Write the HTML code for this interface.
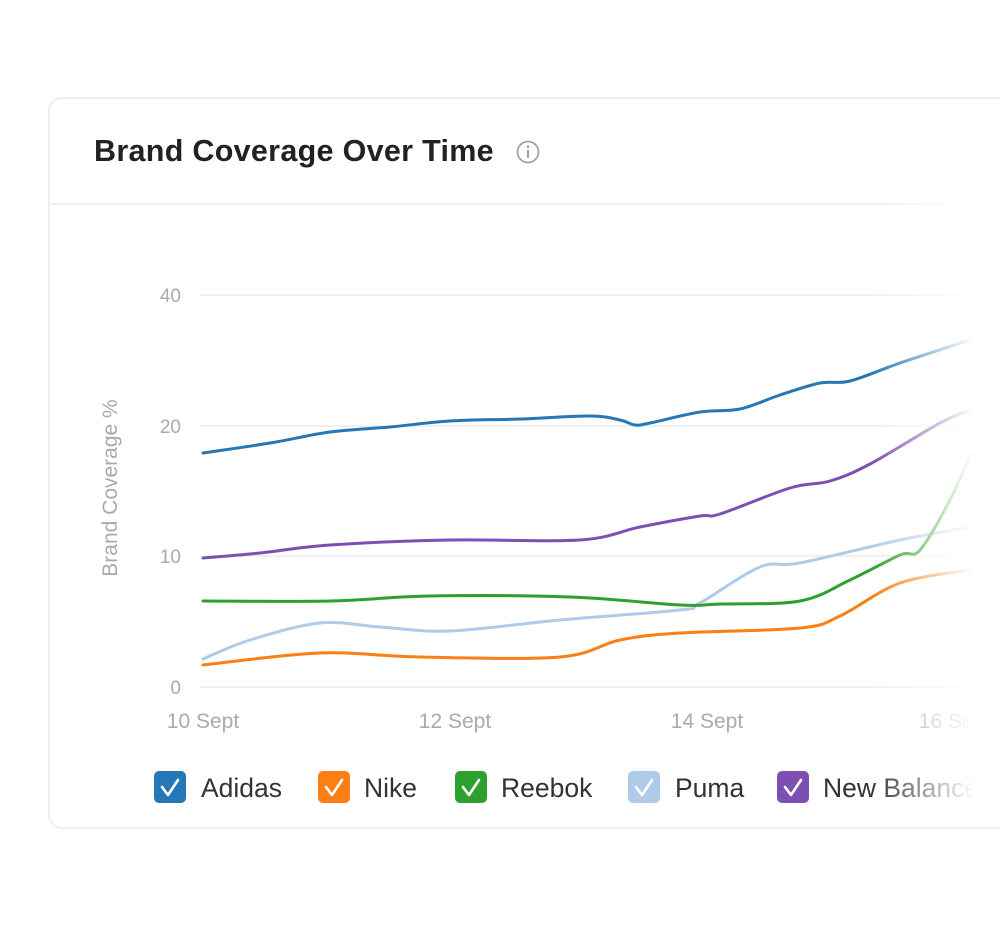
<!DOCTYPE html>
<html><head><meta charset="utf-8"><style>
html,body{margin:0;padding:0;background:#fff;width:1000px;height:928px;overflow:hidden;font-family:"Liberation Sans",sans-serif}
.card{position:absolute;left:48px;top:97px;width:1000px;height:732px;border:2px solid #eeeeee;border-radius:14px;box-sizing:border-box}
.hdr{position:absolute;left:48px;top:203px;width:900px;height:2px;background:#f0f0f0}
.title{position:absolute;left:94px;top:134px;font-size:30.5px;font-weight:bold;color:#222;letter-spacing:0.3px}
.fade{position:absolute;left:870px;top:200px;width:130px;height:620px;background:linear-gradient(to right,rgba(255,255,255,0),#fff 80%)}
</style></head><body>
<div class="card"></div>
<div class="hdr"></div>
<div class="title">Brand Coverage Over Time</div>
<svg width="1000" height="928" style="position:absolute;left:0;top:0">
<circle cx="528" cy="152" r="10.5" fill="none" stroke="#999" stroke-width="1.6"/>
<circle cx="528" cy="146.5" r="1.3" fill="#999"/>
<line x1="528" y1="150" x2="528" y2="158" stroke="#999" stroke-width="1.8"/>
<g stroke="#ececec" stroke-width="1.5">
<line x1="200" y1="295" x2="1000" y2="295"/><line x1="200" y1="426" x2="1000" y2="426"/>
<line x1="200" y1="556" x2="1000" y2="556"/><line x1="200" y1="687" x2="1000" y2="687"/></g>
<g font-size="19" fill="#aaa" text-anchor="end">
<text x="181" y="302">40</text><text x="181" y="433">20</text><text x="181" y="563">10</text><text x="181" y="694">0</text></g>
<text transform="translate(117,488) rotate(-90)" font-size="21" fill="#aaa" text-anchor="middle">Brand Coverage %</text>
<g font-size="21" fill="#aaa" text-anchor="middle">
<text x="203" y="728">10 Sept</text><text x="455" y="728">12 Sept</text><text x="707" y="728">14 Sept</text><text x="955" y="728">16 Sept</text></g>
<g id="lines" fill="none" stroke-width="3" stroke-linecap="round"></g>
<g font-size="26.5" fill="#333">
<rect x="154" y="771" width="32" height="32" rx="5" fill="#2677b5"/><text x="201" y="797">Adidas</text>
<rect x="318" y="771" width="32" height="32" rx="5" fill="#fb7f12"/><text x="364" y="797">Nike</text>
<rect x="455" y="771" width="32" height="32" rx="5" fill="#2ea02d"/><text x="501" y="797">Reebok</text>
<rect x="628" y="771" width="32" height="32" rx="5" fill="#aecbea"/><text x="675" y="797">Puma</text>
<rect x="777" y="771" width="32" height="32" rx="5" fill="#7e4fb2"/><text x="823" y="797">New Balance</text>
</g>
<g fill="none" stroke="#fff" stroke-width="2.6" stroke-linecap="round" stroke-linejoin="round">
<path d="M162 787l6 8 10-15"/><path d="M326 787l6 8 10-15"/><path d="M463 787l6 8 10-15"/><path d="M636 787l6 8 10-15"/><path d="M785 787l6 8 10-15"/></g>
</svg>
<div class="fade"></div>
<script>
var S=[
["#2677b5",[[203,453],[270,443],[330,432],[390,427],[450,421],[520,419],[590,416],[620,420],[635,425],[650,423],[700,412],[740,409],[780,395],[820,383],[850,381],[900,363],[970,340]]],
["#7e4fb2",[[203,558],[260,553],[330,545],[450,540],[580,540],[640,527],[700,516],[720,514],[790,488],[830,481],[870,464],[940,423],[970,410]]],
["#aecbea",[[203,659],[250,640],[320,623],[380,627],[450,631],[560,620],[680,610],[700,603],[760,567],[800,563],[900,540],[970,527]]],
["#2ea02d",[[203,601],[330,601],[430,596],[570,597],[680,605],[720,604],[800,601],[850,580],[900,555],[920,550],[950,500],[970,455]]],
["#fb7f12",[[203,665],[320,653],[420,657],[560,657],[620,640],[680,633],[800,628],[840,616],[900,583],[970,570]]]
];
var g=document.getElementById('lines');
S.forEach(function(s){var p=s[1],d="M"+p[0][0]+" "+p[0][1];
for(var i=0;i<p.length-1;i++){var p0=p[i-1]||p[i],p1=p[i],p2=p[i+1],p3=p[i+2]||p2;
d+=" C"+(p1[0]+(p2[0]-p0[0])/6)+" "+(p1[1]+(p2[1]-p0[1])/6)+" "+(p2[0]-(p3[0]-p1[0])/6)+" "+(p2[1]-(p3[1]-p1[1])/6)+" "+p2[0]+" "+p2[1];}
var e=document.createElementNS("http://www.w3.org/2000/svg","path");e.setAttribute("d",d);e.setAttribute("stroke",s[0]);g.appendChild(e);});
</script>
</body></html>
